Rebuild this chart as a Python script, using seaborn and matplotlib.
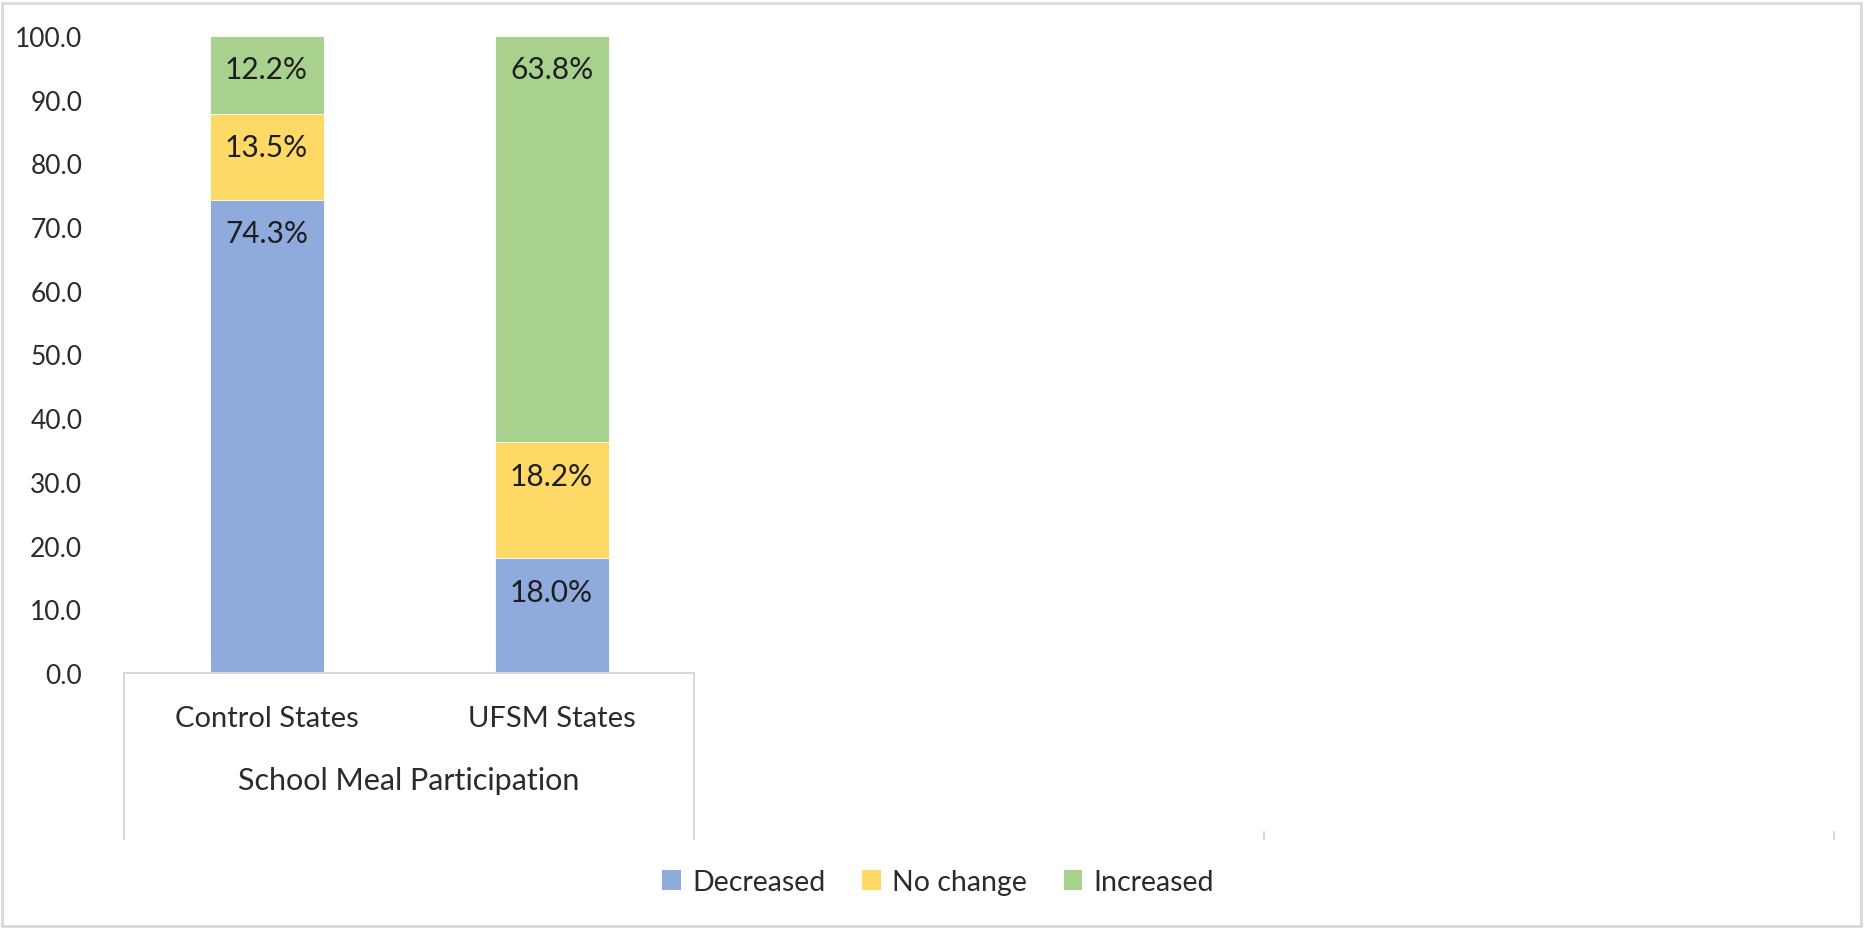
import matplotlib
matplotlib.use("Agg")
import matplotlib.pyplot as plt
import matplotlib.transforms as mtransforms
from matplotlib.patches import Rectangle, Patch
import numpy as np
import pandas as pd
import seaborn as sns

categories = ["Control States", "UFSM States"]
group_label = "School Meal Participation"
series_names = ["Decreased", "No change", "Increased"]
decreased = [74.3, 18.0]
no_change = [13.5, 18.2]
increased = [12.2, 63.8]
colors = ["#8FAADC", "#FFD966", "#A9D18E"]
yticks = [0, 10, 20, 30, 40, 50, 60, 70, 80, 90, 100]

sns.set_style("white")
plt.rcParams["font.family"] = ["Lato", "DejaVu Sans"]

fig = plt.figure(figsize=(18.67, 9.29), dpi=100)
W, H = 1867, 929
ax = fig.add_axes([124 / W, 1 - 674 / H, (1834 - 124) / W, (674 - 37) / H])

values = [decreased, no_change, increased]
cum = np.cumsum(np.array(values), axis=0)
df = pd.DataFrame({"cat": categories})
# draw from top layer down so lower layers overlay
for i in range(len(series_names) - 1, -1, -1):
    df["val"] = cum[i]
    sns.barplot(data=df, x="cat", y="val", order=categories, color=colors[i],
                width=0.4, saturation=1, errorbar=None, ax=ax,
                edgecolor="white", linewidth=0.6)

ax.set_xlim(-0.5, 5.5)
ax.set_ylim(0, 100)
for s in ax.spines.values():
    s.set_visible(False)

ax.set_yticks(yticks)
ax.set_yticklabels([f"{v:.1f}" for v in yticks])
ax.tick_params(axis="y", length=0, pad=30, labelsize=19, labelcolor="#2b2b2b")
ax.set_xticks([])
ax.set_xlabel("")
ax.set_ylabel("")

# data labels (inside end)
for i in range(len(series_names)):
    for j, cat in enumerate(categories):
        ax.annotate(f"{values[i][j]:.1f}%", xy=(j, cum[i][j]), xytext=(0, -24),
                    textcoords="offset points", ha="center", va="center",
                    fontsize=21.5, color="#1e1e1e")

# multi-level category axis
trans = mtransforms.blended_transform_factory(ax.transData, ax.transAxes)
line_col = "#D9D9D9"
ax.plot([-0.5, 1.5], [0, 0], color=line_col, lw=1.5, transform=trans, clip_on=False)
for xv in [-0.5, 1.5]:
    ax.plot([xv, xv], [0, -(840 - 674) / 637], color=line_col, lw=1.5,
            transform=trans, clip_on=False)
for xv in [3.5, 5.5]:
    ax.plot([xv, xv], [-(833 - 674) / 637, -(840 - 674) / 637], color=line_col,
            lw=1.5, transform=trans, clip_on=False)
for j, cat in enumerate(categories):
    ax.text(j, -(719 - 674) / 637, cat, transform=trans, ha="center", va="center",
            fontsize=21, color="#2b2b2b")
ax.text(0.5, -(781 - 674) / 637, group_label, transform=trans, ha="center",
        va="center", fontsize=22, color="#2b2b2b")

handles = [Patch(facecolor=c, edgecolor="none") for c in colors]
fig.legend(handles, series_names, loc="center", bbox_to_anchor=(0.5025, 1 - 883 / H),
           ncol=3, frameon=False, fontsize=20.5, handlelength=0.65, handleheight=0.7,
           handletextpad=0.4, columnspacing=1.3, labelcolor="#2b2b2b")

fig.patches.append(Rectangle((0.001, 0.002), 0.996, 0.994, transform=fig.transFigure,
                             fill=False, edgecolor="#D9D9D9", lw=2))

fig.savefig("out.png", dpi=100)
